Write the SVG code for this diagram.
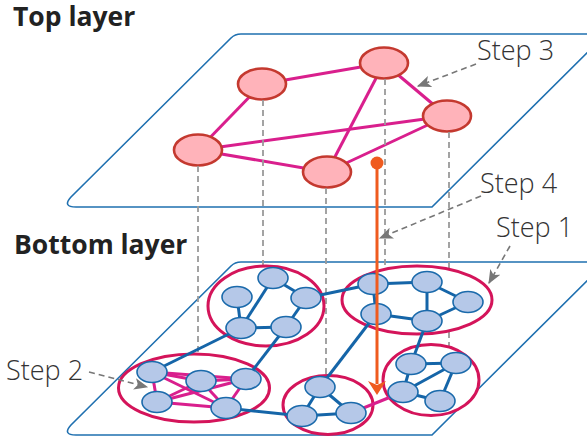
<svg xmlns="http://www.w3.org/2000/svg" width="587" height="439" viewBox="0 0 587 439">
  <defs>
    <style>
      .plane { fill: #ffffff; stroke: #1f70b0; stroke-width: 1.6; }
      .pink-edge { stroke: #d91f8d; stroke-width: 3; fill: none; }
      .blue-edge { stroke: #1565a8; stroke-width: 3; fill: none; }
      .pnode { fill: #ffb3ba; stroke: #c4392f; stroke-width: 2.6; }
      .bnode { fill: #b5c8e8; stroke: #1a6aab; stroke-width: 1.6; }
      .cluster { fill: #ffffff; stroke: #d4145a; stroke-width: 3; }
      .drop { stroke: #9a9a9a; stroke-width: 1.8; stroke-dasharray: 6 4; fill: none; }
      .pointer { stroke: #777777; stroke-width: 1.6; stroke-dasharray: 6 4; fill: none; marker-end: url(#grayHead); }
      .title { font-family: "Open Sans", "Noto Sans", "Liberation Sans", sans-serif; font-weight: 700; font-size: 26.5px; fill: #222222; }
      .step { font-family: "Open Sans", "Noto Sans", "Liberation Sans", sans-serif; font-weight: 300; font-size: 27px; fill: #333333; }
    </style>
    <marker id="grayHead" viewBox="0 0 12 10" refX="11" refY="5" markerWidth="14" markerHeight="12" markerUnits="userSpaceOnUse" orient="auto">
      <path d="M0,0 L12,5 L0,10 L3,5 Z" fill="#777777"/>
    </marker>
  </defs>

  <!-- layer planes -->
  <g id="top-plane">
    <path class="plane" d="M241,34 L606,34 L432,207 L76,207 Q62,207 71,197 L231,38 Q235,34 241,34 Z"/>
  </g>
  <g id="bottom-plane">
    <path class="plane" d="M241,262 L606,262 L432,435 L76,435 Q62,435 71,425 L231,266 Q235,262 241,262 Z"/>
  </g>

  <!-- titles -->
  <text class="title" x="13" y="26">Top layer</text>
  <text class="title" x="14" y="254">Bottom layer</text>

  <!-- top layer graph -->
  <g id="top-edges">
    <line class="pink-edge" x1="262" y1="84" x2="198" y2="150"/>
    <line class="pink-edge" x1="262" y1="84" x2="384" y2="63"/>
    <line class="pink-edge" x1="198" y1="150" x2="447" y2="116"/>
    <line class="pink-edge" x1="198" y1="150" x2="327" y2="172"/>
    <line class="pink-edge" x1="384" y1="63" x2="327" y2="172"/>
    <line class="pink-edge" x1="384" y1="63" x2="447" y2="116"/>
    <line class="pink-edge" x1="447" y1="116" x2="327" y2="172"/>
  </g>
  <g id="top-node-a"><ellipse class="pnode" cx="262" cy="84" rx="24" ry="15.5"/></g>
  <g id="top-node-b"><ellipse class="pnode" cx="198" cy="150" rx="24" ry="15.5"/></g>
  <g id="top-node-c"><ellipse class="pnode" cx="384" cy="63" rx="24" ry="15.5"/></g>
  <g id="top-node-d"><ellipse class="pnode" cx="447" cy="116" rx="24" ry="15.5"/></g>
  <g id="top-node-e"><ellipse class="pnode" cx="327" cy="172" rx="24" ry="15.5"/></g>

  <!-- projections from top nodes to bottom clusters -->
  <g id="projections">
    <line class="drop" x1="198" y1="166" x2="198" y2="356"/>
    <line class="drop" x1="263" y1="100" x2="263" y2="268"/>
    <line class="drop" x1="385" y1="79" x2="385" y2="268"/>
    <line class="drop" x1="449" y1="132" x2="449" y2="346"/>
    <line class="drop" x1="326" y1="188" x2="326" y2="376"/>
  </g>

  <!-- bottom layer clusters -->
  <g id="cluster-1"><ellipse class="cluster" cx="266" cy="306" rx="58" ry="40"/></g>
  <g id="cluster-2"><ellipse class="cluster" cx="417" cy="300" rx="75" ry="34"/></g>
  <g id="cluster-3"><ellipse class="cluster" cx="194" cy="388" rx="75.5" ry="34"/></g>
  <g id="cluster-4"><ellipse class="cluster" cx="431" cy="380" rx="48" ry="35.5"/></g>
  <g id="cluster-5"><ellipse class="cluster" cx="328" cy="405" rx="45" ry="29.5"/></g>

  <!-- bottom layer graph -->
  <g id="bottom-edges">
    <!-- cluster 1 -->
    <line class="blue-edge" x1="273" y1="278" x2="306" y2="298"/>
    <line class="blue-edge" x1="273" y1="278" x2="241" y2="328"/>
    <line class="blue-edge" x1="237" y1="297" x2="241" y2="328"/>
    <line class="blue-edge" x1="241" y1="328" x2="286" y2="327"/>
    <line class="blue-edge" x1="286" y1="327" x2="306" y2="298"/>
    <!-- cluster 2 -->
    <line class="blue-edge" x1="373" y1="284" x2="427" y2="282"/>
    <line class="blue-edge" x1="373" y1="284" x2="376" y2="314"/>
    <line class="blue-edge" x1="427" y1="282" x2="427" y2="321"/>
    <line class="blue-edge" x1="427" y1="282" x2="468" y2="302"/>
    <line class="blue-edge" x1="468" y1="302" x2="427" y2="321"/>
    <line class="blue-edge" x1="376" y1="314" x2="427" y2="321"/>
    <!-- cluster 4 -->
    <line class="blue-edge" x1="411" y1="364" x2="456" y2="363"/>
    <line class="blue-edge" x1="411" y1="364" x2="403" y2="392"/>
    <line class="blue-edge" x1="456" y1="363" x2="403" y2="392"/>
    <line class="blue-edge" x1="456" y1="363" x2="440" y2="401"/>
    <line class="blue-edge" x1="403" y1="392" x2="440" y2="401"/>
    <!-- cluster 5 -->
    <line class="blue-edge" x1="320" y1="387" x2="302" y2="416"/>
    <line class="blue-edge" x1="320" y1="387" x2="351" y2="413"/>
    <line class="blue-edge" x1="302" y1="416" x2="351" y2="413"/>
    <!-- cluster 3 (fully connected) -->
    <line class="pink-edge" x1="152" y1="372" x2="201" y2="381"/>
    <line class="pink-edge" x1="152" y1="372" x2="157" y2="402"/>
    <line class="pink-edge" x1="152" y1="372" x2="226" y2="408"/>
    <line class="pink-edge" x1="152" y1="372" x2="246" y2="379"/>
    <line class="pink-edge" x1="201" y1="381" x2="246" y2="379"/>
    <line class="pink-edge" x1="201" y1="381" x2="157" y2="402"/>
    <line class="pink-edge" x1="201" y1="381" x2="226" y2="408"/>
    <line class="pink-edge" x1="246" y1="379" x2="157" y2="402"/>
    <line class="pink-edge" x1="246" y1="379" x2="226" y2="408"/>
    <line class="pink-edge" x1="157" y1="402" x2="226" y2="408"/>
    <!-- links between clusters -->
    <line class="blue-edge" x1="306" y1="298" x2="373" y2="284"/>
    <line class="blue-edge" x1="241" y1="328" x2="152" y2="372"/>
    <line class="blue-edge" x1="286" y1="327" x2="246" y2="379"/>
    <line class="blue-edge" x1="376" y1="314" x2="320" y2="387"/>
    <line class="blue-edge" x1="427" y1="321" x2="411" y2="364"/>
    <line class="blue-edge" x1="226" y1="408" x2="302" y2="416"/>
    <line class="pink-edge" x1="351" y1="413" x2="403" y2="392"/>
  </g>

  <g id="c1-n1"><ellipse class="bnode" cx="273" cy="278" rx="15" ry="10.5"/></g>
  <g id="c1-n2"><ellipse class="bnode" cx="237" cy="297" rx="15" ry="10.5"/></g>
  <g id="c1-n3"><ellipse class="bnode" cx="306" cy="298" rx="15" ry="10.5"/></g>
  <g id="c1-n4"><ellipse class="bnode" cx="241" cy="328" rx="15" ry="10.5"/></g>
  <g id="c1-n5"><ellipse class="bnode" cx="286" cy="327" rx="15" ry="10.5"/></g>

  <g id="c2-n1"><ellipse class="bnode" cx="373" cy="284" rx="15" ry="10.5"/></g>
  <g id="c2-n2"><ellipse class="bnode" cx="427" cy="282" rx="15" ry="10.5"/></g>
  <g id="c2-n3"><ellipse class="bnode" cx="468" cy="302" rx="15" ry="10.5"/></g>
  <g id="c2-n4"><ellipse class="bnode" cx="376" cy="314" rx="15" ry="10.5"/></g>
  <g id="c2-n5"><ellipse class="bnode" cx="427" cy="321" rx="15" ry="10.5"/></g>

  <g id="c3-n1"><ellipse class="bnode" cx="152" cy="372" rx="15" ry="10.5"/></g>
  <g id="c3-n2"><ellipse class="bnode" cx="201" cy="381" rx="15" ry="10.5"/></g>
  <g id="c3-n3"><ellipse class="bnode" cx="246" cy="379" rx="15" ry="10.5"/></g>
  <g id="c3-n4"><ellipse class="bnode" cx="157" cy="402" rx="15" ry="10.5"/></g>
  <g id="c3-n5"><ellipse class="bnode" cx="226" cy="408" rx="15" ry="10.5"/></g>

  <g id="c4-n1"><ellipse class="bnode" cx="411" cy="364" rx="15" ry="10.5"/></g>
  <g id="c4-n2"><ellipse class="bnode" cx="456" cy="363" rx="15" ry="10.5"/></g>
  <g id="c4-n3"><ellipse class="bnode" cx="403" cy="392" rx="15" ry="10.5"/></g>
  <g id="c4-n4"><ellipse class="bnode" cx="440" cy="401" rx="15" ry="10.5"/></g>

  <g id="c5-n1"><ellipse class="bnode" cx="320" cy="387" rx="15" ry="10.5"/></g>
  <g id="c5-n2"><ellipse class="bnode" cx="302" cy="416" rx="15" ry="10.5"/></g>
  <g id="c5-n3"><ellipse class="bnode" cx="351" cy="413" rx="15" ry="10.5"/></g>

  <!-- descent arrow from top layer into bottom layer -->
  <g id="descent">
    <circle cx="377" cy="163" r="6.5" fill="#ef5b1f"/>
    <line x1="377" y1="163" x2="377" y2="384" stroke="#ef5b1f" stroke-width="3"/>
    <path d="M368,381 L377,385 L386,381 L377,395 Z" fill="#ef5b1f"/>
  </g>

  <!-- step callouts -->
  <g id="step-labels">
    <text class="step" x="477" y="60">Step 3</text>
    <text class="step" x="480" y="193">Step 4</text>
    <text class="step" x="496" y="237">Step 1</text>
    <text class="step" x="6" y="380">Step 2</text>
    <line class="pointer" x1="476" y1="64" x2="418" y2="86"/>
    <line class="pointer" x1="481" y1="196" x2="380" y2="238"/>
    <line class="pointer" x1="510" y1="246" x2="489" y2="283"/>
    <line class="pointer" x1="89" y1="372" x2="147" y2="387"/>
  </g>
</svg>
